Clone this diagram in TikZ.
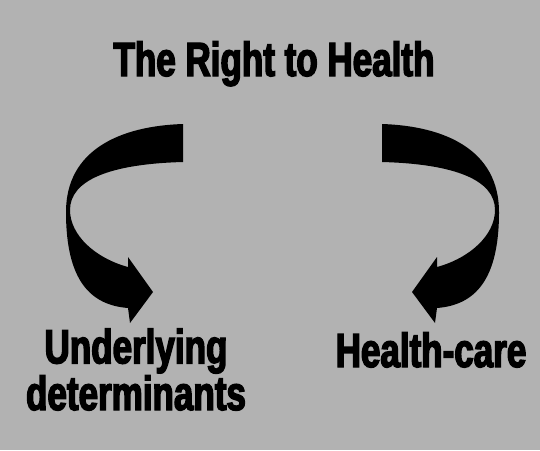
\documentclass[tikz,border=0pt]{standalone}
\usepackage{fontspec}
\usepackage{tikz}
\usetikzlibrary{positioning}
\newfontfamily\posterfont{Liberation Sans}[UprightFont=* Bold, FakeStretch=0.73, FakeBold=3]
\definecolor{noisegray}{RGB}{178,178,178}

\begin{document}
\begin{tikzpicture}[x=0.02cm, y=-0.02cm,
    headline/.style={font=\posterfont\fontsize{27.3}{23.3}\selectfont, inner sep=0, align=center, text=black},
    ribbonarrow/.pic={
        \fill[black] (183,124) .. controls (120,126) and (66,150) .. (66,212)
            .. controls (66,280) and (90,305) .. (128,308)
            -- (130,323) -- (153,292) -- (128,257) -- (128,267)
            .. controls (95,258) and (70,235) .. (70,210)
            .. controls (70,180) and (110,164) .. (183,162) -- cycle;
    }]

    % background
    \fill[noisegray] (0,0) rectangle (540,450);
    \useasboundingbox (0,0) rectangle (540,450);

    \node[headline, anchor=base] (title) at (274,76) {The Right to Health};
    \node[headline, anchor=base] (under) at (136,410) {Underlying\\determinants};
    \node[headline, anchor=base] (hcare) at (431,367) {Health-care};

    % the two curved arrows, mirrored
    \pic at (0,0) {ribbonarrow};
    \pic[xscale=-1] at (565,0) {ribbonarrow};
\end{tikzpicture}
\end{document}
